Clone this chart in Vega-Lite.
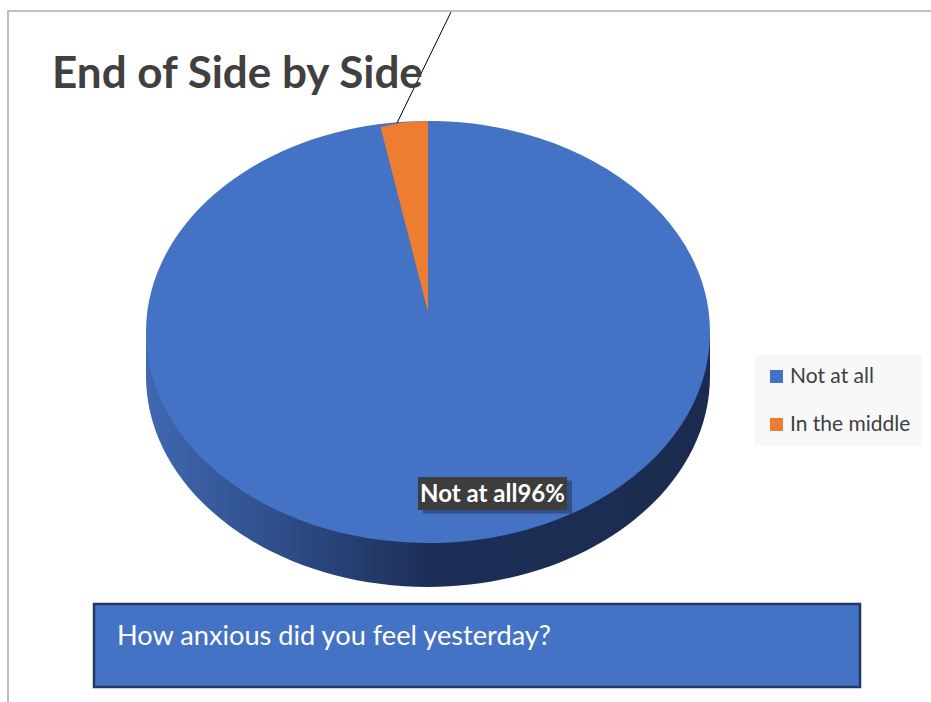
{
  "$schema": "https://vega.github.io/schema/vega-lite/v6.json",
  "autosize": "none",
  "padding": {"left": 8, "top": 11, "right": 0, "bottom": 0},
  "width": 940,
  "height": 700,
  "background": "white",
  "view": {"stroke": "#c0c0c0", "strokeWidth": 2, "fill": "white"},
  "config": {
    "legend": {
      "orient": "none", "legendX": 747, "legendY": 344, "fillColor": "#f8f8f8", "padding": 11,
      "symbolType": "square", "symbolSize": 169, "symbolStrokeWidth": 0, "labelFont": "Lato",
      "labelFontSize": 21, "labelColor": "#404040", "rowPadding": 26, "labelOffset": 3
    }
  },
  "title": {
    "text": "End of Side by Side", "anchor": "start", "frame": "group", "orient": "top",
    "offset": -122, "baseline": "alphabetic", "dx": 44, "font": "Lato", "fontSize": 44,
    "fontWeight": "bold", "color": "#404040"
  },
  "datasets": {
    "answers": [
      {"category": "Not at all", "value": 96},
      {"category": "In the middle", "value": 4}
    ]
  },
  "layer": [
    {
      "data": {"values": [{"part": "side"}]},
      "mark": {
        "type": "point", "shape": "M -1 0 L -1 0.156 A 1 0.748 0 0 0 1 0.156 L 1 0 Z", "size": 318096,
        "filled": true, "opacity": 1, "strokeWidth": 0, "xOffset": -50, "yOffset": -29,
        "fill": {"gradient": "linear", "x1": 0, "y1": 0, "x2": 1, "y2": 0,
          "stops": [{"offset": 0, "color": "#3f68b0"}, {"offset": 0.25, "color": "#2e4c88"}, {"offset": 0.5, "color": "#1d2f57"}, {"offset": 1, "color": "#1b2b4f"}]}
      },
      "encoding": {}
    },
    {
      "data": {"values": [{"part": "top"}]},
      "mark": {
        "type": "point", "shape": "M -1 0 A 1 0.748 0 1 0 1 0 A 1 0.748 0 1 0 -1 0 Z", "size": 318096,
        "filled": true, "opacity": 1, "strokeWidth": 0, "fill": "#4472c4", "xOffset": -50, "yOffset": -29
      },
      "encoding": {}
    },
    {
      "data": {"name": "answers"},
      "mark": {"type": "arc", "radius": 191, "xOffset": -50, "yOffset": -49, "strokeWidth": 0},
      "encoding": {
        "theta": {"field": "value", "type": "quantitative", "stack": true},
        "color": {
          "field": "category", "type": "nominal", "sort": null,
          "scale": {"domain": ["Not at all", "In the middle"], "range": ["#4472c4", "#ed7d31"]},
          "legend": {"title": null}
        },
        "order": {"field": "value", "sort": "descending"}
      }
    },
    {
      "data": {"values": [{"part": "leader"}]},
      "mark": {
        "type": "point", "shape": "M 0.0816 -1.1348 L -0.1099 -0.7411", "size": 318096,
        "filled": false, "opacity": 1, "stroke": "#000000", "strokeWidth": 1, "xOffset": -50, "yOffset": -29
      },
      "encoding": {}
    },
    {
      "data": {"values": [{"part": "labelshadow"}]},
      "mark": {
        "type": "point", "shape": "M -1 -0.2215 L 1 -0.2215 L 1 0.2215 L -1 0.2215 Z", "size": 22201,
        "filled": true, "opacity": 1, "strokeWidth": 0, "fill": "#30508c", "xOffset": 19.5, "yOffset": 136
      },
      "encoding": {}
    },
    {
      "data": {"values": [{"part": "labelbox"}]},
      "mark": {
        "type": "point", "shape": "M -1 -0.2215 L 1 -0.2215 L 1 0.2215 L -1 0.2215 Z", "size": 22201,
        "filled": true, "opacity": 1, "strokeWidth": 0, "fill": "#3d3d3d", "xOffset": 14.5, "yOffset": 132.5
      },
      "encoding": {}
    },
    {
      "data": {"name": "answers"},
      "transform": [
        {"filter": "datum.category === 'Not at all'"},
        {"calculate": "datum.category + datum.value + '%'", "as": "label"}
      ],
      "mark": {
        "type": "text", "align": "center", "baseline": "alphabetic", "dx": 14.5, "dy": 141,
        "font": "Lato", "fontSize": 24, "fontWeight": "bold", "fill": "#ffffff"
      },
      "encoding": {"text": {"field": "label", "type": "nominal"}}
    },
    {
      "data": {"values": [{"part": "questionbox"}]},
      "mark": {
        "type": "point", "shape": "M -1 -0.10836 L 1 -0.10836 L 1 0.10836 L -1 0.10836 Z", "size": 586756,
        "filled": true, "opacity": 1, "fill": "#4472c4", "stroke": "#1f3864", "strokeWidth": 2.5,
        "xOffset": -1, "yOffset": 284.5
      },
      "encoding": {}
    },
    {
      "data": {"values": [{"question": "How anxious did you feel yesterday?"}]},
      "mark": {
        "type": "text", "align": "left", "baseline": "alphabetic", "dx": -361, "dy": 284,
        "font": "Lato", "fontSize": 27.2, "fill": "#ffffff"
      },
      "encoding": {"text": {"field": "question", "type": "nominal"}}
    }
  ]
}
